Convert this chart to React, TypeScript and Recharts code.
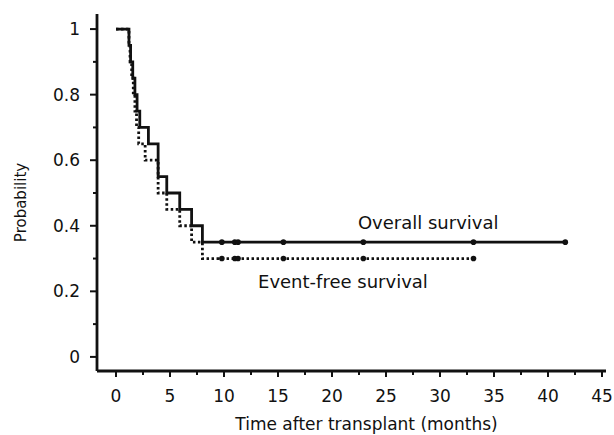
import { ComposedChart, Line, Scatter, XAxis, YAxis, ReferenceDot } from "recharts";

// Kaplan-Meier estimates (months, probability)
const overallTimes = [0, 1.2, 1.35, 1.55, 1.75, 1.95, 2.2, 3.0, 3.9, 4.7, 5.9, 7.0, 8.0, 41.6];
const overallProb = [1, 0.95, 0.9, 0.85, 0.8, 0.75, 0.7, 0.65, 0.55, 0.5, 0.45, 0.4, 0.35, 0.35];
const eventFreeTimes = [0, 1.2, 1.3, 1.45, 1.6, 1.75, 1.9, 2.1, 2.7, 3.9, 4.7, 5.9, 7.0, 8.0, 33.1];
const eventFreeProb = [1, 0.95, 0.9, 0.85, 0.8, 0.75, 0.7, 0.65, 0.6, 0.5, 0.45, 0.4, 0.35, 0.3, 0.3];

// censored observations (tick marks on the plateaus)
const overallCensored = [9.8, 11.0, 11.3, 15.5, 22.9, 33.1, 41.6];
const overallPlateau = 0.35;
const eventFreeCensored = [9.8, 11.0, 11.3, 15.5, 22.9, 33.1];
const eventFreePlateau = 0.3;

const xTicks = [0, 2.5, 5, 7.5, 10, 12.5, 15, 17.5, 20, 22.5, 25, 27.5, 30, 32.5, 35, 37.5, 40, 42.5, 45];
const yTicks = [0, 0.1, 0.2, 0.3, 0.4, 0.5, 0.6, 0.7, 0.8, 0.9, 1];

const overallLabel = { t: 22.4, p: 0.39, text: "Overall survival" };
const eventFreeLabel = { t: 13.15, p: 0.21, text: "Event-free survival" };

const FONT = "'DejaVu Sans', sans-serif";
const INK = "#111";

const overallData = overallTimes.map((t, i) => ({ t, p: overallProb[i] }));
const eventFreeData = eventFreeTimes.map((t, i) => ({ t, p: eventFreeProb[i] }));
const overallCensorData = overallCensored.map((t) => ({ t, p: overallPlateau }));
const eventFreeCensorData = eventFreeCensored.map((t) => ({ t, p: eventFreePlateau }));

function XTick(props: any) {
  const { x, y, payload } = props;
  const major = payload.value % 5 === 0;
  return (
    <g>
      <line x1={x} y1={y} x2={x} y2={y + (major ? 6 : 4)} stroke={INK} strokeWidth={2} />
      {major && (
        <text x={x} y={y + 31} textAnchor="middle" fontFamily={FONT} fontSize={17} fill={INK}>
          {payload.value}
        </text>
      )}
    </g>
  );
}

function YTick(props: any) {
  const { x, y, payload } = props;
  const major = Math.round(payload.value * 10) % 2 === 0;
  return (
    <g>
      <line x1={x} y1={y} x2={x - (major ? 7 : 4)} y2={y} stroke={INK} strokeWidth={2} />
      {major && (
        <text x={x - 17} y={y + 6} textAnchor="end" fontFamily={FONT} fontSize={17} fill={INK}>
          {payload.value}
        </text>
      )}
    </g>
  );
}

const censorShape = (props: any) => <circle cx={props.cx} cy={props.cy} r={2.8} fill={INK} />;

const textShape = (text: string) => (props: any) =>
  (
    <text x={props.cx} y={props.cy} fontFamily={FONT} fontSize={18} fill={INK}>
      {text}
    </text>
  );

export default function App() {
  return (
    <div style={{ position: "absolute", left: 0, top: 0, width: 614, height: 435, background: "#fff" }}>
      <ComposedChart width={614} height={435} margin={{ top: 14, right: 8, bottom: 0, left: 0 }}>
        <XAxis
          type="number"
          dataKey="t"
          domain={[-1.76, 45.37]}
          allowDataOverflow
          ticks={xTicks}
          interval={0}
          height={64}
          tickSize={0}
          tickMargin={0}
          tickLine={false}
          tick={<XTick />}
          axisLine={{ stroke: INK, strokeWidth: 2.8 }}
          label={{
            content: (p: any) => {
              const vb = p.viewBox;
              return (
                <text
                  x={vb.x + vb.width / 2 + 15}
                  y={vb.y + 59}
                  textAnchor="middle"
                  fontFamily={FONT}
                  fontSize={17}
                  fill={INK}
                >
                  Time after transplant (months)
                </text>
              );
            },
          }}
        />
        <YAxis
          type="number"
          domain={[-0.043, 1.046]}
          allowDataOverflow
          ticks={yTicks}
          interval={0}
          width={97}
          tickSize={0}
          tickMargin={0}
          tickLine={false}
          tick={<YTick />}
          axisLine={{ stroke: INK, strokeWidth: 2.8 }}
          label={{
            content: (p: any) => {
              const vb = p.viewBox;
              const cx = vb.x + 21;
              const cy = vb.y + vb.height / 2 + 10;
              return (
                <text
                  x={cx}
                  y={cy}
                  transform={`rotate(-90 ${cx} ${cy})`}
                  textAnchor="middle"
                  dominantBaseline="central"
                  fontFamily={FONT}
                  fontSize={15}
                  fill={INK}
                >
                  Probability
                </text>
              );
            },
          }}
        />
        <Line
          data={overallData}
          dataKey="p"
          type="stepAfter"
          stroke={INK}
          strokeWidth={2.8}
          dot={false}
          isAnimationActive={false}
        />
        <Line
          data={eventFreeData}
          dataKey="p"
          type="stepAfter"
          stroke={INK}
          strokeWidth={2.8}
          strokeDasharray="2.5 2.5"
          dot={false}
          isAnimationActive={false}
        />
        <Scatter data={overallCensorData} dataKey="p" shape={censorShape} isAnimationActive={false} />
        <Scatter data={eventFreeCensorData} dataKey="p" shape={censorShape} isAnimationActive={false} />
        <ReferenceDot x={overallLabel.t} y={overallLabel.p} r={0} shape={textShape(overallLabel.text)} />
        <ReferenceDot x={eventFreeLabel.t} y={eventFreeLabel.p} r={0} shape={textShape(eventFreeLabel.text)} />
      </ComposedChart>
    </div>
  );
}
